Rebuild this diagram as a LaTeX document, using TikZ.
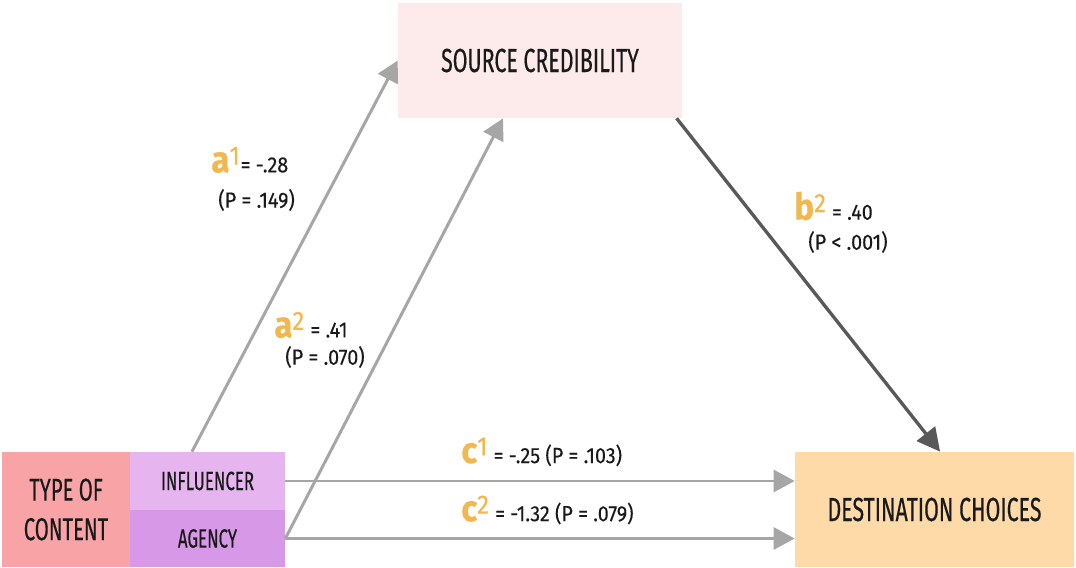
\documentclass[tikz,border=0pt]{standalone}
\usepackage{fontspec}
\setmainfont{Fira Sans}[FakeStretch=0.64,FakeBold=0.35]
\newfontfamily\labfont{Fira Sans}[FakeStretch=0.9,FakeBold=0.25]
\usetikzlibrary{arrows.meta,calc}
\definecolor{scfill}{HTML}{FDEAEA}
\definecolor{tocfill}{HTML}{F8A4A6}
\definecolor{inffill}{HTML}{E6B4EF}
\definecolor{agefill}{HTML}{D898E8}
\definecolor{dcfill}{HTML}{FDDAA8}
\definecolor{coef}{HTML}{F2B74E}
\definecolor{lightline}{HTML}{A6A6A6}
\definecolor{darkline}{HTML}{595959}
\definecolor{ink}{HTML}{1A1A1A}
\newcommand\coef[2]{\textcolor{coef}{\fontsize{21}{21}\selectfont\bfseries #1}\textsuperscript{\textcolor{coef}{\fontsize{15}{15}\selectfont #2}}}
\begin{document}
\begin{tikzpicture}[x=0.02cm,y=-0.02cm,
  box/.style={draw=none,inner sep=0pt,text=ink,align=center},
  title/.style={font=\fontsize{19}{21}\selectfont},
  small/.style={font=\fontsize{15}{17}\selectfont},
  lab/.style={inner sep=0pt,anchor=west,text=ink,font=\labfont\fontsize{12.5}{14}\selectfont},
  garrow/.style={draw=lightline,line width=1.7pt,-{Triangle[length=0.42cm,width=0.44cm]}},
  darrow/.style={draw=darkline,line width=1.9pt,-{Triangle[length=0.46cm,width=0.46cm]}}]
\useasboundingbox (0,0) rectangle (1076,568);
\fill[white] (0,0) rectangle (1076,568);

% boxes
\node[box,title,fill=scfill,minimum width=5.68cm,minimum height=2.3cm] (sc) at (540,60.5) {SOURCE CREDIBILITY};
\node[box,fill=tocfill,minimum width=2.56cm,minimum height=2.3cm,font=\fontsize{18}{22.5}\selectfont] (toc) at (66,509.5) {TYPE OF\\CONTENT};
\node[box,small,fill=inffill,minimum width=3.1cm,minimum height=1.16cm] (inf) at (207.5,481) {INFLUENCER};
\node[box,small,fill=agefill,minimum width=3.1cm,minimum height=1.14cm] (age) at (207.5,538.5) {AGENCY};
\node[box,title,fill=dcfill,minimum width=5.58cm,minimum height=2.3cm] (dc) at (934.5,509.5) {DESTINATION CHOICES};

% paths
\draw[garrow] ($(inf.north west)!0.4!(inf.north east)$) -- (sc.west);
\draw[garrow] (age.east) -- ($(sc.south west)!0.37!(sc.south east)$);
\draw[garrow] (inf.east) -- (inf.east -| dc.west);
\draw[garrow] (age.east) -- (age.east -| dc.west);
\draw[darrow] ($(sc.south west)!0.98!(sc.south east)$) -- ($(dc.north west)!0.52!(dc.north east)$);

% coefficients
\node[lab] (a1) at (211,160) {\coef{a}{1}= -.28};
\node[lab] (a1p) at (218,200) {(P = .149)};
\node[lab] (a2) at (274,325) {\coef{a}{2} = .41};
\node[lab] (a2p) at (285,357) {(P = .070)};
\node[lab] (b2) at (794,206) {\coef{b}{2} = .40};
\node[lab] (b2p) at (808,242) {(P < .001)};
\node[lab] (c1) at (461,452) {\coef{c}{1} = -.25 (P = .103)};
\node[lab] (c2) at (461,510) {\coef{c}{2} = -1.32 (P = .079)};
\end{tikzpicture}
\end{document}
